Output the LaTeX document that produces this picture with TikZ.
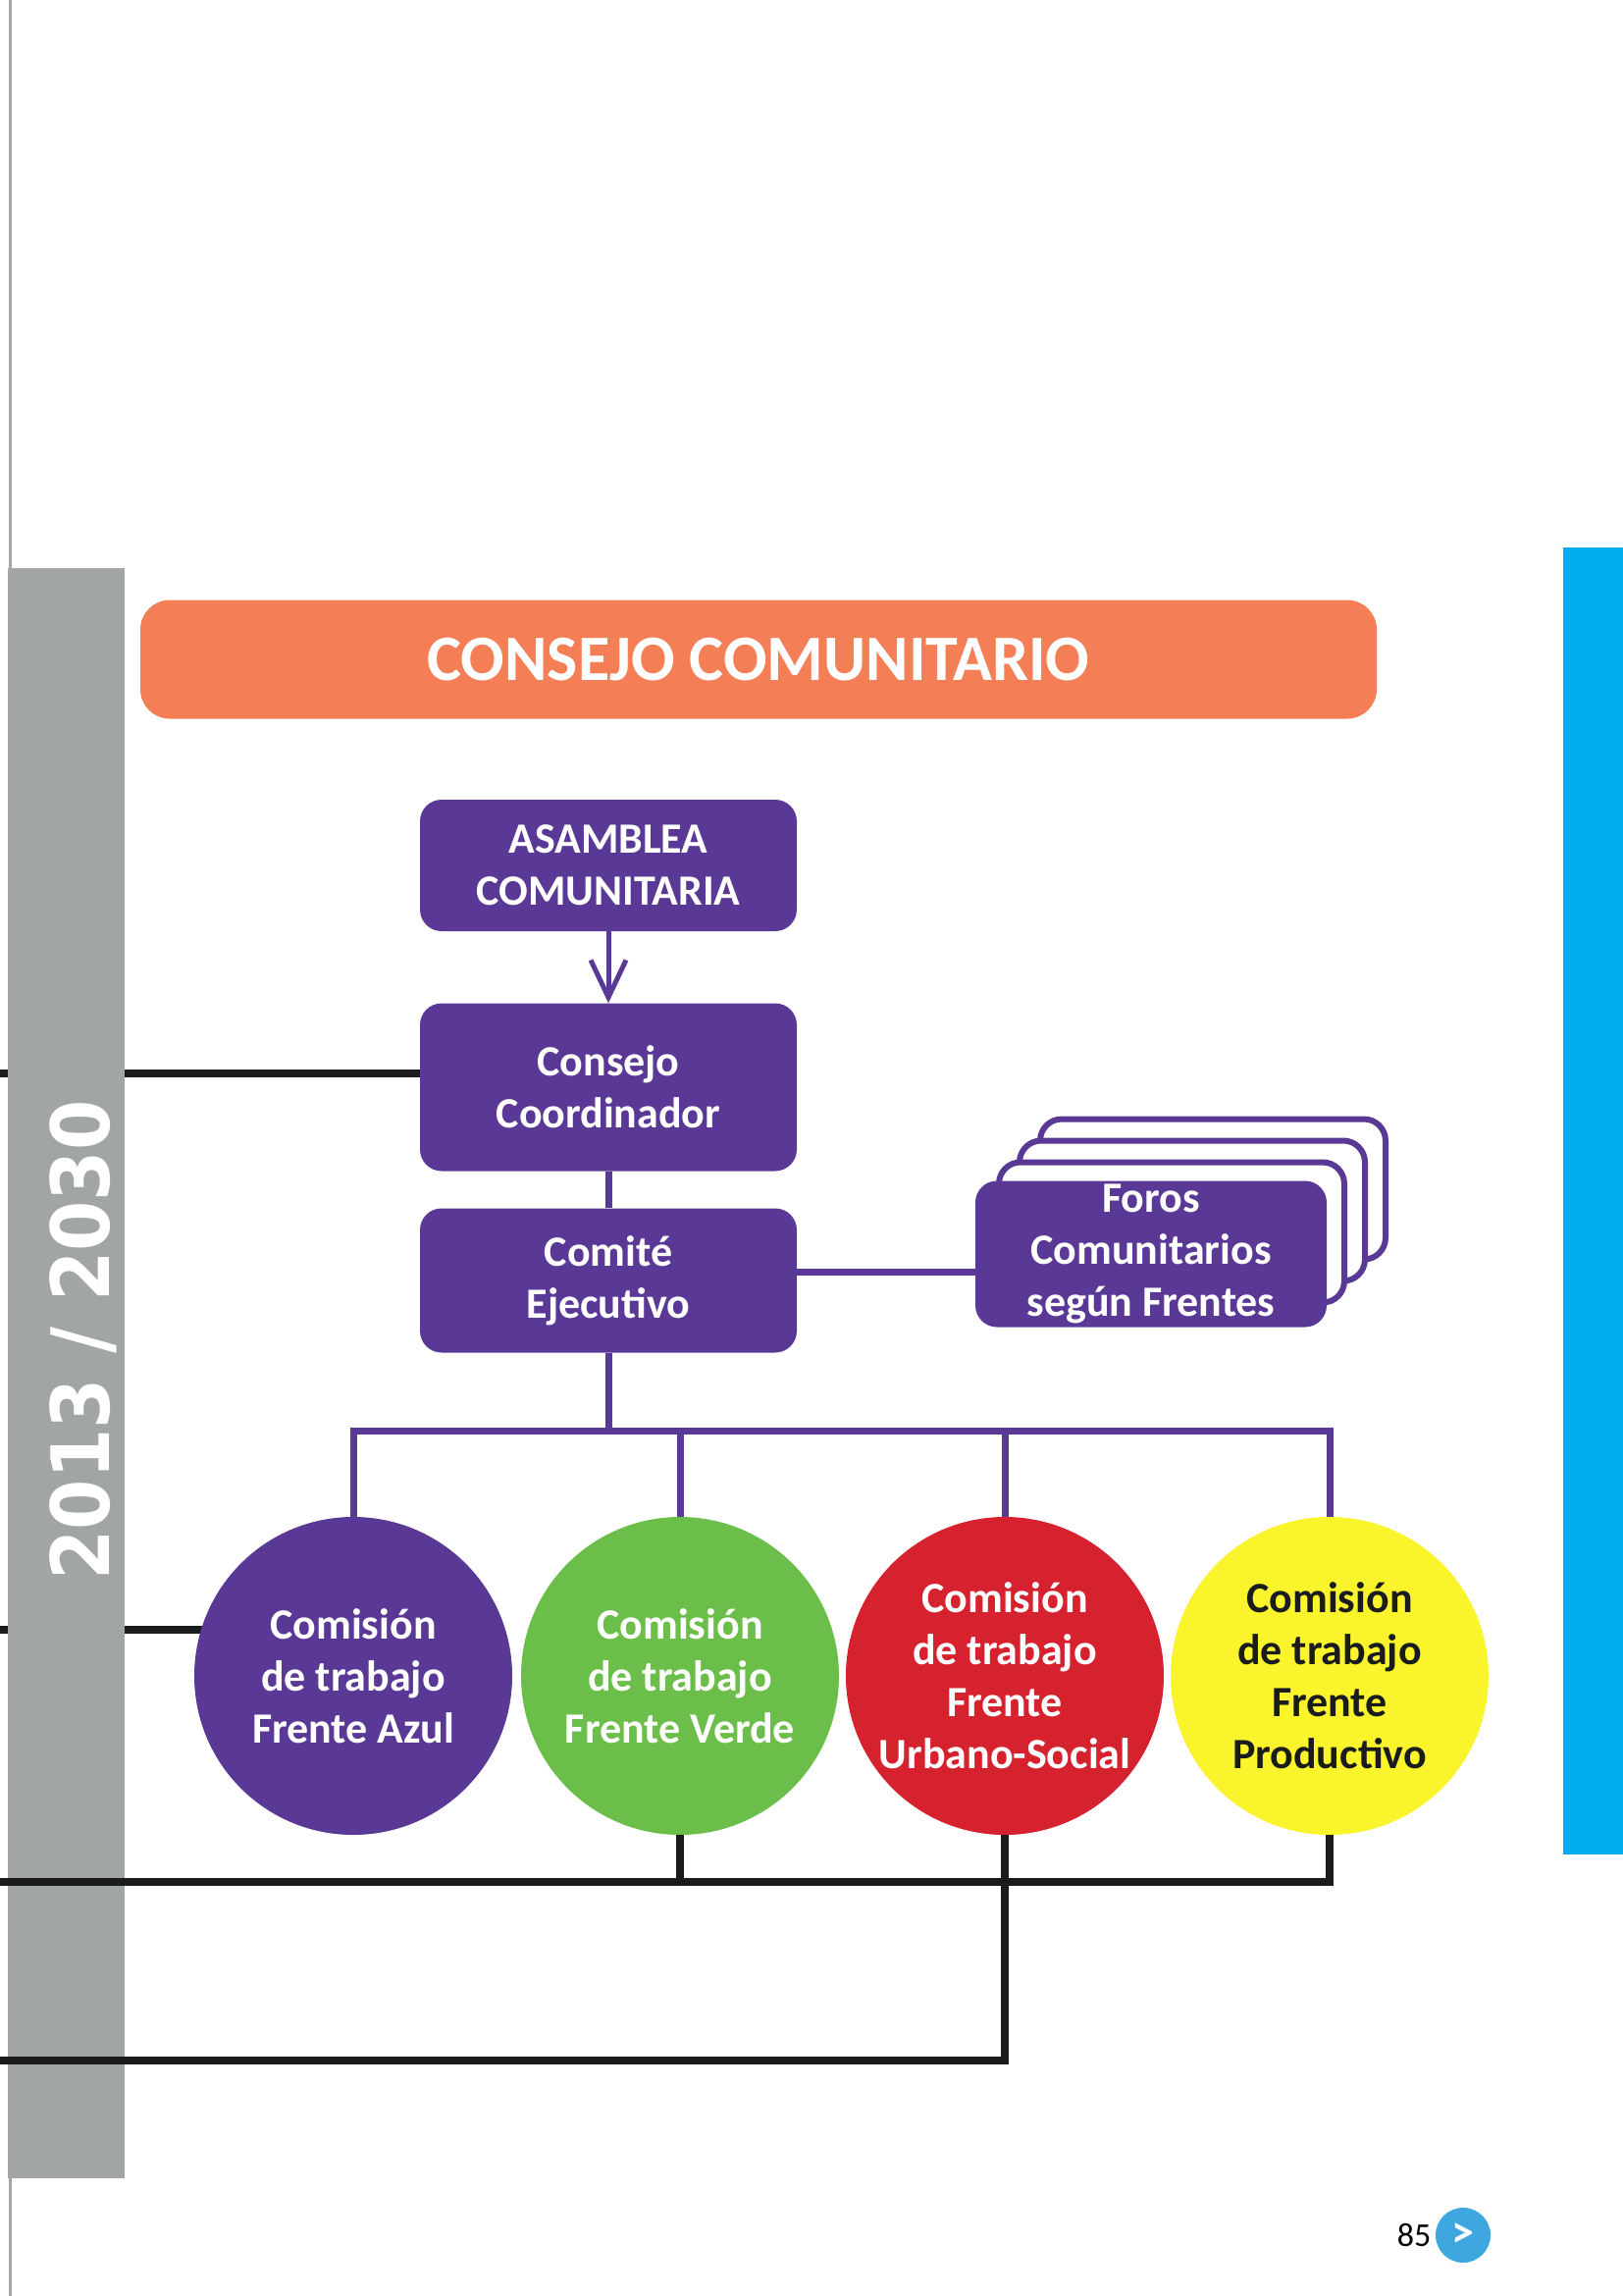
\documentclass[tikz,border=0pt]{standalone}
\usepackage{fontspec}
\setmainfont{Carlito}
\newfontfamily\yearfont{DejaVu Sans Condensed}
\usetikzlibrary{positioning,calc,arrows.meta}
\pgfdeclarelayer{background}
\pgfsetlayers{background,main}
\definecolor{purp}{RGB}{90,57,150}
\definecolor{verdec}{RGB}{108,190,75}
\definecolor{rojoc}{RGB}{214,33,46}
\definecolor{amarc}{RGB}{250,244,45}
\definecolor{naranja}{RGB}{244,126,86}
\definecolor{banda}{RGB}{161,165,165}
\definecolor{celeste}{RGB}{0,174,239}
\definecolor{bolita}{RGB}{63,167,224}
\definecolor{linea}{RGB}{26,28,28}

\begin{document}
\begin{tikzpicture}[x=1pt,y=-1pt,
	caja/.style={rounded corners=22pt, fill=purp, text=white, minimum width=384pt, inner sep=0pt, align=center, font=\bfseries\fontsize{44}{53}\selectfont},
	forosback/.style={rounded corners=22pt, fill=white, draw=purp, line width=6pt, minimum width=352pt, minimum height=143pt},
	comision/.style={circle, minimum size=324pt, inner sep=0pt, align=center, text=white, font=\bfseries\fontsize{44}{53}\selectfont},
	lila/.style={draw=purp, line width=7pt},
	negra/.style={draw=linea, line width=8pt}]
		\useasboundingbox (0,0) rectangle (1654,2340);
		% page decoration
		\fill[banda] (8,579) rectangle (127,2220);
		\draw[gray!70, line width=3pt] (10,0) -- (10,2340);
		\fill[celeste] (1593,558) rectangle (1654,1890);
		\node[rotate=90, text=white, font=\yearfont\bfseries\fontsize{82}{82}\selectfont] (anio) at (85,1366) {2013 / 2030};
		\node[rounded corners=30pt, fill=naranja, minimum width=1260pt, minimum height=121pt, text=white, font=\bfseries\fontsize{66}{66}\selectfont] (titulo) at (773,672) {CONSEJO COMUNITARIO};
		% boxes
		\node[caja, minimum height=134pt] (asam) at (620,882) {ASAMBLEA\\COMUNITARIA};
		\node[caja, minimum height=171pt] (coord) at (620,1108) {Consejo\\Coordinador};
		\node[caja, minimum height=147pt] (ejec) at (620,1305) {Comité\\Ejecutivo};
		\foreach \k in {3,2,1}
			\node[forosback] (fb\k) at ({1173+21*\k},{1278-22*\k}) {};
		\node[caja, minimum width=358pt, minimum height=149pt] (foros) at (1173,1278) {Foros\\Comunitarios\\según Frentes};
		% circles
		\node[comision, fill=purp] (azul) at (360,1708) {Comisión\\de trabajo\\Frente Azul};
		\node[comision, fill=verdec] (verde) at (693,1708) {Comisión\\de trabajo\\Frente Verde};
		\node[comision, fill=rojoc] (rojo) at (1024,1708) {Comisión\\de trabajo\\Frente\\Urbano-Social};
		\node[comision, fill=amarc, text=linea] (prod) at (1355,1708) {Comisión\\de trabajo\\Frente\\Productivo};
		% purple connectors
		\draw[lila, line width=5pt, -{Straight Barb[length=38pt, width=36pt]}] (asam.south) -- (coord.north);
		\draw[lila] (coord.south) -- (ejec.north);
		\coordinate (fj) at ([yshift=9pt]ejec.east);
		\draw[lila] (fj) -- (fj -| foros.west);
		\coordinate (bus) at (0,1458);
		\draw[lila] (ejec.south) -- (ejec.south |- bus);
		\draw[lila] (azul.north) -- (azul.north |- bus) -- (prod.north |- bus) -- (prod.north);
		\draw[lila] (verde.north) -- (verde.north |- bus);
		\draw[lila] (rojo.north) -- (rojo.north |- bus);
		% black connectors from the edge
		\coordinate (lA) at (0,1094);
		\coordinate (lB) at (0,1661);
		\coordinate (lC) at (0,1918);
		\coordinate (lD) at (0,2100);
		\begin{pgfonlayer}{background}
			\draw[negra] (lA) -- (lA -| coord.center);
			\draw[negra] (lB) -- (lB -| azul.center);
		\end{pgfonlayer}
		\draw[negra] (lC) -- (lC -| prod.south) -- (prod.south);
		\draw[negra] (verde.south) -- (verde.south |- lC);
		\draw[negra] (lD) -- (lD -| rojo.south) -- (rojo.south);
		% page number
		\node[font=\fontsize{34}{34}\selectfont] (pagina) at (1441,2278) {85};
		\node[circle, fill=bolita, minimum size=56pt, inner sep=0pt, text=white, font=\bfseries\fontsize{46}{46}\selectfont] (sig) at (1491,2278) {>};
	\end{tikzpicture}
\end{document}
